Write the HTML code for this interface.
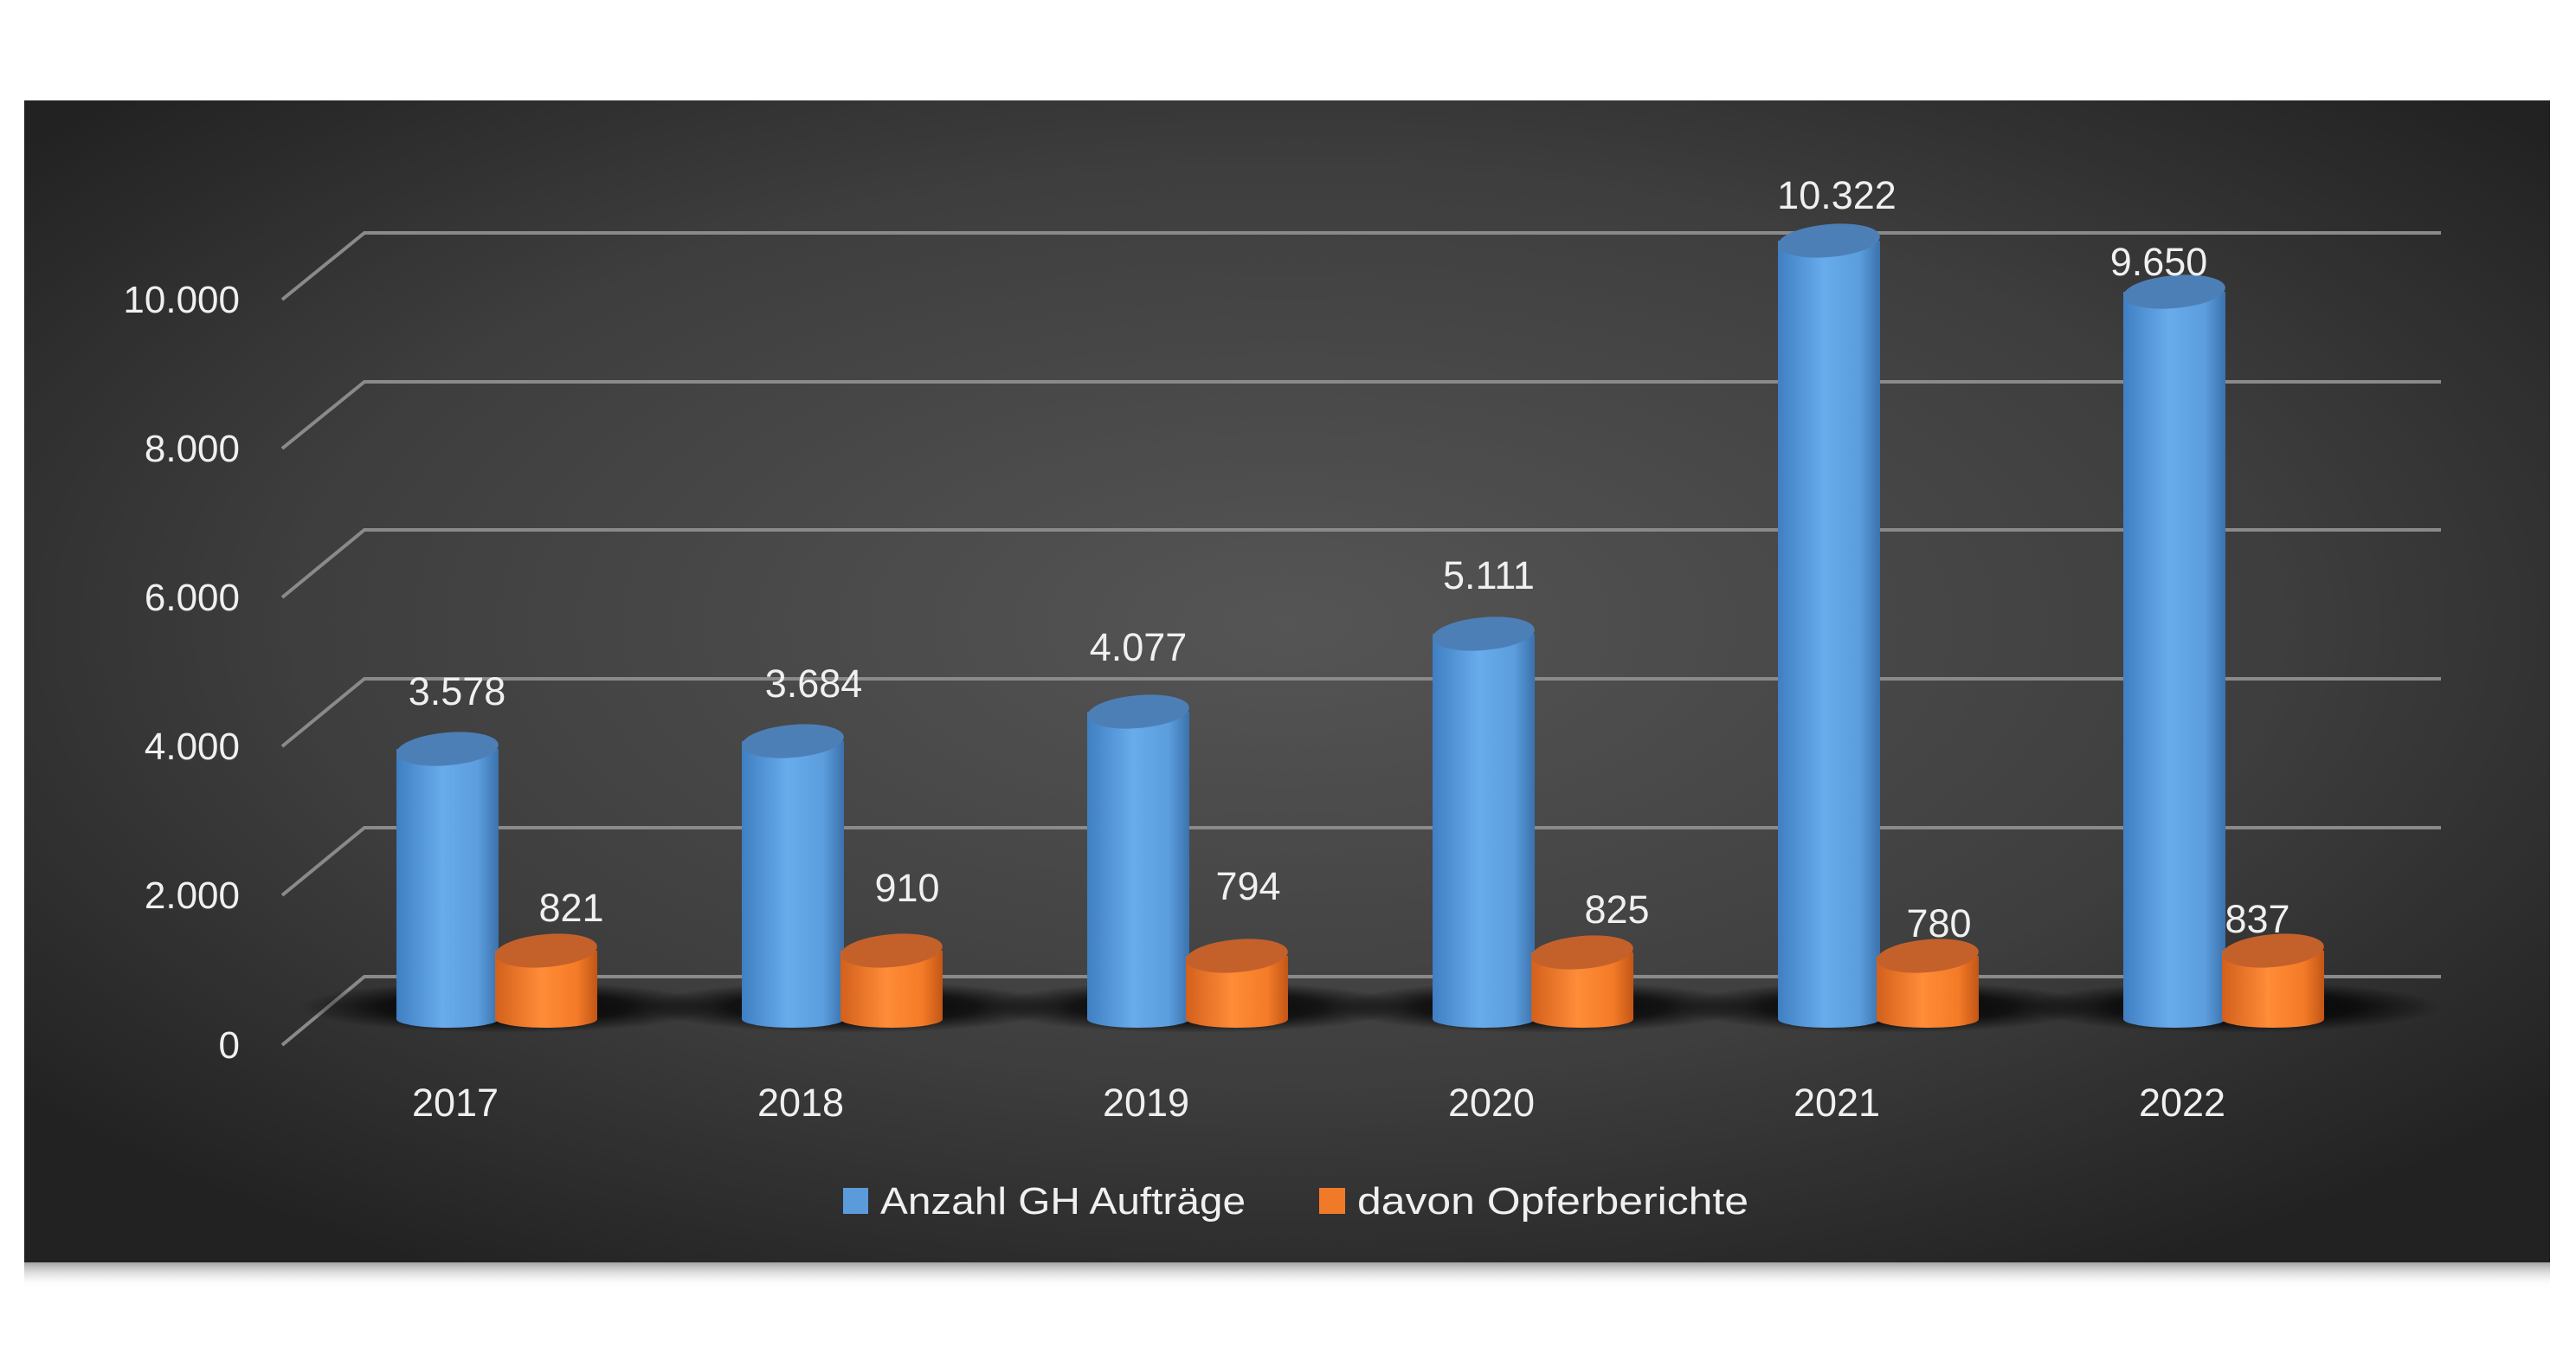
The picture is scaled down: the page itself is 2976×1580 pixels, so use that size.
<!DOCTYPE html>
<html><head><meta charset="utf-8"><style>
html,body{margin:0;padding:0;background:#fff;}
svg{display:block;}
text{font-family:"Liberation Sans",sans-serif;fill:#f0f0f0;}
</style></head><body>
<svg width="2976" height="1580" viewBox="0 0 2976 1580" xmlns="http://www.w3.org/2000/svg">
<defs>
<radialGradient id="bg" cx="0.5" cy="0.45" r="0.65">
<stop offset="0" stop-color="#555555"/><stop offset="0.6" stop-color="#3e3e3e"/><stop offset="1" stop-color="#222222"/>
</radialGradient>
<linearGradient id="sh" x1="0" y1="0" x2="0" y2="1">
<stop offset="0" stop-color="#999" stop-opacity="0.9"/><stop offset="1" stop-color="#fff" stop-opacity="0"/>
</linearGradient>
<linearGradient id="bl" x1="0" y1="0" x2="1" y2="0">
<stop offset="0" stop-color="#3f7fc2"/><stop offset="0.45" stop-color="#68acec"/><stop offset="0.8" stop-color="#5b9ddd"/><stop offset="1" stop-color="#3b72ad"/>
</linearGradient>
<linearGradient id="or" x1="0" y1="0" x2="1" y2="0">
<stop offset="0" stop-color="#d3601c"/><stop offset="0.45" stop-color="#ff8c38"/><stop offset="0.8" stop-color="#f47b27"/><stop offset="1" stop-color="#c25617"/>
</linearGradient>
<radialGradient id="flr" cx="0.5" cy="0.5" r="0.5">
<stop offset="0" stop-color="#000" stop-opacity="0.95"/><stop offset="0.6" stop-color="#000" stop-opacity="0.7"/><stop offset="1" stop-color="#000" stop-opacity="0"/>
</radialGradient>
</defs>
<rect x="28" y="1458" width="2918" height="30" fill="url(#sh)"/>
<rect x="28" y="116" width="2918" height="1342" fill="url(#bg)"/>
<g stroke="#8a8a8a" stroke-width="4" fill="none">
<path d="M326 346 L421 269 H2820"/>
<path d="M326 518 L421 441 H2820"/>
<path d="M326 690 L421 612 H2820"/>
<path d="M326 862 L421 784 H2820"/>
<path d="M326 1034 L421 956 H2820"/>
<path d="M326 1207 L421 1128 H2820"/>
</g>
<g font-size="44" text-anchor="end">
<text x="277" y="361">10.000</text>
<text x="277" y="533">8.000</text>
<text x="277" y="705">6.000</text>
<text x="277" y="877">4.000</text>
<text x="277" y="1049">2.000</text>
<text x="277" y="1222">0</text>
</g>
<g>
<ellipse cx="585" cy="1163" rx="240" ry="30" fill="url(#flr)"/>
<ellipse cx="984" cy="1163" rx="240" ry="30" fill="url(#flr)"/>
<ellipse cx="1383" cy="1163" rx="240" ry="30" fill="url(#flr)"/>
<ellipse cx="1782" cy="1163" rx="240" ry="30" fill="url(#flr)"/>
<ellipse cx="2181" cy="1163" rx="240" ry="30" fill="url(#flr)"/>
<ellipse cx="2580" cy="1163" rx="240" ry="30" fill="url(#flr)"/>
</g>
<g>
<rect x="458" y="865" width="118" height="312" fill="url(#bl)"/><ellipse cx="517" cy="1177" rx="59" ry="10" fill="url(#bl)"/><ellipse cx="517" cy="865" rx="59" ry="19" fill="#4d7fb7" transform="rotate(-5 517 865)"/>
<rect x="572" y="1098" width="118" height="79" fill="url(#or)"/><ellipse cx="631" cy="1177" rx="59" ry="10" fill="url(#or)"/><ellipse cx="631" cy="1098" rx="59" ry="19" fill="#c4612b" transform="rotate(-5 631 1098)"/>
<rect x="857" y="856" width="118" height="321" fill="url(#bl)"/><ellipse cx="916" cy="1177" rx="59" ry="10" fill="url(#bl)"/><ellipse cx="916" cy="856" rx="59" ry="19" fill="#4d7fb7" transform="rotate(-5 916 856)"/>
<rect x="971" y="1098" width="118" height="79" fill="url(#or)"/><ellipse cx="1030" cy="1177" rx="59" ry="10" fill="url(#or)"/><ellipse cx="1030" cy="1098" rx="59" ry="19" fill="#c4612b" transform="rotate(-5 1030 1098)"/>
<rect x="1256" y="822" width="118" height="355" fill="url(#bl)"/><ellipse cx="1315" cy="1177" rx="59" ry="10" fill="url(#bl)"/><ellipse cx="1315" cy="822" rx="59" ry="19" fill="#4d7fb7" transform="rotate(-5 1315 822)"/>
<rect x="1370" y="1104" width="118" height="73" fill="url(#or)"/><ellipse cx="1429" cy="1177" rx="59" ry="10" fill="url(#or)"/><ellipse cx="1429" cy="1104" rx="59" ry="19" fill="#c4612b" transform="rotate(-5 1429 1104)"/>
<rect x="1655" y="732" width="118" height="445" fill="url(#bl)"/><ellipse cx="1714" cy="1177" rx="59" ry="10" fill="url(#bl)"/><ellipse cx="1714" cy="732" rx="59" ry="19" fill="#4d7fb7" transform="rotate(-5 1714 732)"/>
<rect x="1769" y="1100" width="118" height="77" fill="url(#or)"/><ellipse cx="1828" cy="1177" rx="59" ry="10" fill="url(#or)"/><ellipse cx="1828" cy="1100" rx="59" ry="19" fill="#c4612b" transform="rotate(-5 1828 1100)"/>
<rect x="2054" y="278" width="118" height="899" fill="url(#bl)"/><ellipse cx="2113" cy="1177" rx="59" ry="10" fill="url(#bl)"/><ellipse cx="2113" cy="278" rx="59" ry="19" fill="#4d7fb7" transform="rotate(-5 2113 278)"/>
<rect x="2168" y="1104" width="118" height="73" fill="url(#or)"/><ellipse cx="2227" cy="1177" rx="59" ry="10" fill="url(#or)"/><ellipse cx="2227" cy="1104" rx="59" ry="19" fill="#c4612b" transform="rotate(-5 2227 1104)"/>
<rect x="2453" y="337" width="118" height="840" fill="url(#bl)"/><ellipse cx="2512" cy="1177" rx="59" ry="10" fill="url(#bl)"/><ellipse cx="2512" cy="337" rx="59" ry="19" fill="#4d7fb7" transform="rotate(-5 2512 337)"/>
<rect x="2567" y="1098" width="118" height="79" fill="url(#or)"/><ellipse cx="2626" cy="1177" rx="59" ry="10" fill="url(#or)"/><ellipse cx="2626" cy="1098" rx="59" ry="19" fill="#c4612b" transform="rotate(-5 2626 1098)"/>
</g>
<g font-size="45" text-anchor="middle">
<text x="528" y="814">3.578</text>
<text x="940" y="805">3.684</text>
<text x="1315" y="763">4.077</text>
<text x="1720" y="680">5.111</text>
<text x="2122" y="241">10.322</text>
<text x="2494" y="318">9.650</text>
<text x="660" y="1064">821</text>
<text x="1048" y="1041">910</text>
<text x="1442" y="1039">794</text>
<text x="1868" y="1066">825</text>
<text x="2240" y="1082">780</text>
<text x="2608" y="1077">837</text>
<text x="526" y="1289">2017</text>
<text x="925" y="1289">2018</text>
<text x="1324" y="1289">2019</text>
<text x="1723" y="1289">2020</text>
<text x="2122" y="1289">2021</text>
<text x="2521" y="1289">2022</text>
</g>
<rect x="974" y="1372" width="29" height="30" fill="#5b9bdc"/>
<text x="1017" y="1402" font-size="44" textLength="422" lengthAdjust="spacingAndGlyphs">Anzahl GH Aufträge</text>
<rect x="1524" y="1372" width="30" height="30" fill="#f07a28"/>
<text x="1568" y="1402" font-size="44" textLength="452" lengthAdjust="spacingAndGlyphs">davon Opferberichte</text>
</svg>
</body></html>
